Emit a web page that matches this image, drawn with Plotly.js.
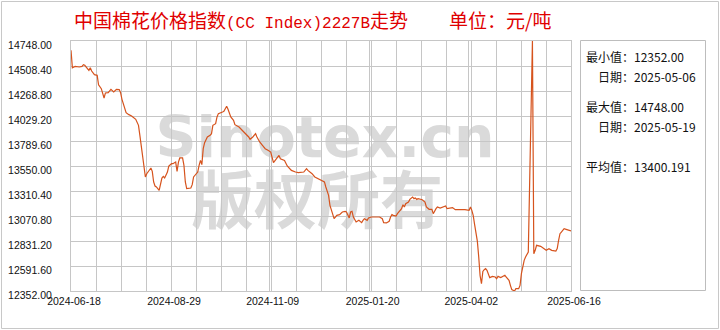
<!DOCTYPE html>
<html>
<head>
<meta charset="utf-8">
<script src="https://cdn.plot.ly/plotly-3.0.1.min.js"></script>
<style>html,body{margin:0;padding:0;background:#fff;}#chart{width:720px;height:330px;}</style>
</head>
<body>
<div id="chart"></div>
<script>
// ---- data ----
const dates = [
"2024-06-18","2024-06-19","2024-06-21","2024-06-24","2024-06-26","2024-06-27","2024-06-28","2024-07-01","2024-07-02","2024-07-03",
"2024-07-05","2024-07-07","2024-07-08","2024-07-10","2024-07-12","2024-07-13","2024-07-15","2024-07-17","2024-07-19","2024-07-21",
"2024-07-23","2024-07-24","2024-07-25","2024-07-26","2024-07-28","2024-07-30","2024-08-01","2024-08-04","2024-08-06","2024-08-07",
"2024-08-08","2024-08-09","2024-08-10","2024-08-11","2024-08-12","2024-08-13","2024-08-15","2024-08-16","2024-08-17","2024-08-18",
"2024-08-19","2024-08-21","2024-08-23","2024-08-24","2024-08-25","2024-08-27","2024-08-28","2024-08-30","2024-08-31","2024-09-02",
"2024-09-03","2024-09-04","2024-09-05","2024-09-07","2024-09-08","2024-09-09","2024-09-10","2024-09-13","2024-09-14","2024-09-15",
"2024-09-16","2024-09-17","2024-09-18","2024-09-19","2024-09-20","2024-09-21","2024-09-22","2024-09-23","2024-09-25","2024-09-27",
"2024-09-28","2024-09-29","2024-10-01","2024-10-02","2024-10-03","2024-10-06","2024-10-07","2024-10-08","2024-10-09","2024-10-10",
"2024-10-12","2024-10-14","2024-10-15","2024-10-18","2024-10-20","2024-10-22","2024-10-25","2024-10-26","2024-10-28","2024-10-30",
"2024-10-31","2024-11-02","2024-11-04","2024-11-06","2024-11-08","2024-11-10","2024-11-12","2024-11-14","2024-11-16","2024-11-17",
"2024-11-20","2024-11-22","2024-11-24","2024-11-25","2024-11-28","2024-11-30","2024-12-04","2024-12-06","2024-12-07","2024-12-10",
"2024-12-12","2024-12-15","2024-12-16","2024-12-17","2024-12-19","2024-12-20","2024-12-22","2024-12-23","2024-12-25","2024-12-26",
"2024-12-28","2024-12-30","2025-01-01","2025-01-03","2025-01-04","2025-01-06","2025-01-07","2025-01-08","2025-01-09","2025-01-11",
"2025-01-13","2025-01-15","2025-01-16","2025-01-17","2025-01-19","2025-01-20","2025-01-22","2025-01-25","2025-01-28","2025-01-30",
"2025-01-31","2025-02-02","2025-02-04","2025-02-05","2025-02-06","2025-02-07","2025-02-09","2025-02-10","2025-02-11","2025-02-13",
"2025-02-14","2025-02-15","2025-02-16","2025-02-18","2025-02-19","2025-02-21","2025-02-22","2025-02-23","2025-02-24","2025-02-25",
"2025-02-28","2025-03-02","2025-03-03","2025-03-05","2025-03-07","2025-03-08","2025-03-10","2025-03-11","2025-03-13","2025-03-15",
"2025-03-17","2025-03-18","2025-03-22","2025-03-24","2025-03-28","2025-03-31","2025-04-03","2025-04-04","2025-04-05","2025-04-06",
"2025-04-07","2025-04-08","2025-04-09","2025-04-10","2025-04-11","2025-04-12","2025-04-13","2025-04-14","2025-04-15","2025-04-16",
"2025-04-17","2025-04-18","2025-04-20","2025-04-22","2025-04-23","2025-04-24","2025-04-26","2025-04-28","2025-04-29","2025-04-30",
"2025-05-02","2025-05-03","2025-05-04","2025-05-06","2025-05-07","2025-05-09","2025-05-10","2025-05-11","2025-05-12","2025-05-13",
"2025-05-14","2025-05-15","2025-05-16","2025-05-19","2025-05-20","2025-05-21","2025-05-22","2025-05-25","2025-05-27","2025-05-29",
"2025-05-31","2025-06-02","2025-06-05","2025-06-06","2025-06-07","2025-06-08","2025-06-09","2025-06-11","2025-06-13","2025-06-16"
];
const values = [
14659,14492,14505,14499,14505,14521,14515,14467,14492,14460,
14425,14419,14329,14291,14202,14250,14253,14285,14259,14285,
14282,14253,14189,14147,14061,14042,14029,13997,13940,13844,
13748,13620,13524,13445,13476,13492,13531,13499,13397,13358,
13349,13317,13435,13451,13435,13492,13550,13572,13572,13588,
13499,13588,13627,13627,13556,13397,13333,13339,13371,13445,
13461,13467,13492,13556,13604,13563,13716,13774,13828,13844,
13860,13940,13956,14020,14052,14068,14074,14099,14122,14093,
14020,13988,13946,13924,13901,13869,13828,13806,13828,13860,
13828,13780,13748,13716,13700,13684,13582,13620,13652,13620,
13604,13550,13524,13508,13492,13486,13492,13524,13508,13476,
13445,13422,13420,13410,13397,13349,13269,13173,13093,13045,
13077,13084,13109,13115,13109,13052,13109,13115,13061,13013,
13029,13007,13029,13045,13029,13052,13061,13061,13061,13045,
13007,13004,13020,13061,13084,13077,13071,13093,13109,13141,
13179,13157,13189,13205,13230,13253,13237,13243,13230,13237,
13227,13205,13157,13135,13135,13093,13141,13157,13147,13157,
13167,13141,13151,13131,13135,13131,13125,13157,13125,13077,
12990,12920,12830,12680,12500,12422,12540,12556,12566,12550,
12502,12480,12492,12486,12470,12492,12480,12492,12502,12486,
12454,12406,12365,12352,12374,12374,12406,12518,12598,12646,
12678,12710,12726,14748,12710,12742,12790,12780,12758,12742,
12758,12742,12735,12758,12838,12901,12917,12949,12940,12927
];
const yTickVals = [12352, 12591.6, 12831.2, 13070.8, 13310.4, 13550, 13789.6, 14029.2, 14268.8, 14508.4, 14748];
const yTickText = ["12352.00","12591.60","12831.20","13070.80","13310.40","13550.00","13789.60","14029.20","14268.80","14508.40","14748.00"];
const xTickVals = ["2024-06-18 00:00","2024-08-29 14:24","2024-11-09 04:48","2025-01-20 19:12","2025-04-02 09:36","2025-06-16 00:00"];
const xTickText = ["2024-06-18","2024-08-29","2024-11-09","2025-01-20","2025-04-02","2025-06-16"];
const titleParts = ["中国棉花价格指数", "(CC Index)2227B", "走势"];
const titleUnit = "单位：元/吨";
const statLabels = ["最小值：","日期：","最大值：","日期：","平均值："];
const statValues = ["12352.00","2025-05-06","14748.00","2025-05-19","13400.191"];
const watermark1 = "Sinotex.cn";
const watermark2 = "版权所有";

// ---- layout helpers (pixel -> paper) ----
const W = 720, H = 330, L = 71, R = 149, T = 41, B = 39;
const PW = W - L - R, PH = H - T - B;
const fx = p => (p - L) / PW;
const fy = p => (H - B - p) / PH;

const gridCol = '#c6c6c6';
const tickFont = {family: 'Liberation Sans, Arial, sans-serif', size: 10.5, color: '#111'};
const cjk = 'Noto Sans CJK SC, sans-serif';
const titleColor = '#e00000';

const statX = [584, 596, 584, 596, 584];
const statY = [56, 76, 106, 126.5, 166.5];

const titleHtml = titleParts[0] +
  '<span style="font-family:Liberation Mono;font-size:16px">' + titleParts[1] + '</span>' + titleParts[2];

const annotations = [
  {xref:'paper', yref:'paper', x:fx(72), y:fy(20), xanchor:'left', yanchor:'middle', showarrow:false,
   text:titleHtml, font:{family:cjk, size:19, color:titleColor}},
  {xref:'paper', yref:'paper', x:fx(446.5), y:fy(20), xanchor:'left', yanchor:'middle', showarrow:false,
   text:titleUnit, font:{family:cjk, size:19, color:titleColor}}
];
statLabels.forEach((lab, i) => {
  annotations.push({xref:'paper', yref:'paper', x:fx(statX[i]), y:fy(statY[i]), xanchor:'left', yanchor:'middle',
    showarrow:false, text: lab + statValues[i], font:{family:cjk, size:12, color:'#111'}});
});

const shapes = [
  {type:'rect', xref:'paper', yref:'paper', x0:fx(1.5), x1:fx(718.5), y0:fy(328.5), y1:fy(1.5),
   line:{color:'#c8c8c8', width:1}, fillcolor:'rgba(0,0,0,0)', layer:'above'},
  {type:'rect', xref:'paper', yref:'paper', x0:fx(580.5), x1:fx(705.5), y0:fy(290.5), y1:fy(40.5),
   line:{color:'#bdbdbd', width:1}, fillcolor:'rgba(0,0,0,0)', layer:'above'},
  {type:'rect', xref:'paper', yref:'paper', x0:fx(140), x1:fx(510), y0:fy(165), y1:fy(100),
   line:{width:0}, fillcolor:'rgba(0,0,0,0)', layer:'below',
   label:{text:watermark1, textposition:'middle center',
          font:{family:'DejaVu Sans, sans-serif', size:57, weight:'bold', color:'#dadada'}}},
  {type:'rect', xref:'paper', yref:'paper', x0:fx(170), x1:fx(464), y0:fy(240), y1:fy(170),
   line:{width:0}, fillcolor:'rgba(0,0,0,0)', layer:'below',
   label:{text:watermark2, textposition:'middle center',
          font:{family:cjk, size:63, weight:'bold', color:'#dadada'}}}
];

const trace = {
  x: dates, y: values, type:'scatter', mode:'lines',
  line:{color:'#d6531d', width:1.2}, hoverinfo:'skip'
};

const layout = {
  width:W, height:H, margin:{l:L, r:R, t:T, b:B, pad:0},
  paper_bgcolor:'#ffffff', plot_bgcolor:'#ffffff', showlegend:false,
  xaxis:{type:'date', range:[xTickVals[0], xTickVals[xTickVals.length-1]],
    tickmode:'array', tickvals:xTickVals, ticktext:xTickText, ticks:'', tickfont:tickFont,
    showgrid:true, gridcolor:gridCol, gridwidth:1, zeroline:false,
    showline:true, mirror:true, linecolor:gridCol, linewidth:1,
    ticklabelshift:3, fixedrange:true,
    minor:{tickmode:'linear', tick0:'2024-06-18', dtick:1568160000, showgrid:true, gridcolor:gridCol, gridwidth:1, ticks:''}},
  yaxis:{range:[yTickVals[0], yTickVals[yTickVals.length-1]],
    tickmode:'array', tickvals:yTickVals, ticktext:yTickText, ticks:'', tickfont:tickFont,
    showgrid:true, gridcolor:gridCol, gridwidth:1, zeroline:false,
    showline:true, mirror:true, linecolor:gridCol, linewidth:1,
    ticklabelstandoff:16, ticklabelshift:4, fixedrange:true},
  annotations: annotations,
  shapes: shapes
};

Plotly.newPlot('chart', [trace], layout, {displayModeBar:false, staticPlot:true});
</script>
</body>
</html>
